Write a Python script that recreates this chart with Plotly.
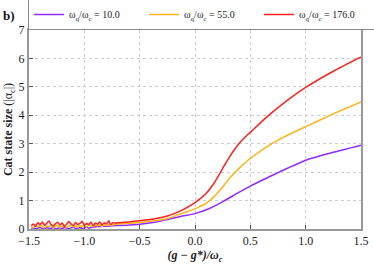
import plotly.graph_objects as go

# ---- data ----
x_noise = [round(-1.48 + 0.02 * i, 2) for i in range(40)]          # -1.48 .. -0.70
red_noise = [0.12,0.18,0.10,0.22,0.15,0.25,0.13,0.20,0.28,0.16,0.11,0.19,0.24,0.14,0.21,0.09,0.17,0.26,0.18,0.12,
             0.23,0.15,0.20,0.27,0.13,0.19,0.16,0.24,0.11,0.21,0.17,0.25,0.14,0.22,0.18,0.29,0.15,0.23,0.20,0.22]
orange_noise = [0.08,0.05,0.12,0.07,0.14,0.09,0.04,0.11,0.08,0.15,0.06,0.10,0.13,0.07,0.09,0.12,0.05,0.10,0.14,0.08,
                0.11,0.06,0.13,0.09,0.12,0.07,0.15,0.10,0.08,0.13,0.11,0.16,0.09,0.14,0.12,0.17,0.13,0.15,0.16,0.18]
purple_noise = [0.02,0.04,0.01,0.03,0.05,0.02,0.01,0.04,0.03,0.02,0.06,0.01,0.03,0.04,0.02,0.05,0.03,0.01,0.04,0.06,
                0.02,0.03,0.05,0.02,0.04,0.07,0.03,0.05,0.06,0.08]

red_x = [-0.6, -0.5, -0.35, -0.25, -0.13, 0.0, 0.1, 0.17, 0.22, 0.26, 0.3, 0.35, 0.4, 0.45, 0.5, 0.62, 0.77, 1.0, 1.25, 1.5]
red_y = [0.25, 0.29, 0.37, 0.46, 0.64, 0.93, 1.25, 1.6, 1.92, 2.2, 2.46, 2.76, 3.02, 3.22, 3.4, 3.84, 4.33, 4.98, 5.55, 6.05]

orange_x = [-0.6, -0.5, -0.35, -0.25, -0.13, 0.0, 0.1, 0.17, 0.25, 0.32, 0.4, 0.45, 0.5, 0.62, 0.77, 1.0, 1.25, 1.5]
orange_y = [0.2, 0.23, 0.3, 0.37, 0.53, 0.71, 0.9, 1.13, 1.48, 1.82, 2.14, 2.32, 2.48, 2.82, 3.17, 3.6, 4.05, 4.47]

purple_x = [-0.8, -0.7, -0.5, -0.35, -0.25, -0.13, 0.0, 0.13, 0.26, 0.38, 0.5, 0.63, 0.77, 1.0, 1.25, 1.5]
purple_y = [0.1, 0.12, 0.17, 0.25, 0.33, 0.44, 0.54, 0.72, 0.98, 1.25, 1.51, 1.76, 2.02, 2.42, 2.7, 2.95]

labels = ["ω<sub>q</sub>/ω<sub>c</sub> = 10.0", "ω<sub>q</sub>/ω<sub>c</sub> = 55.0", "ω<sub>q</sub>/ω<sub>c</sub> = 176.0"]
colors = ["#8f2bff", "#ffb31a", "#ff2020"]

x_ticks = [-1.5, -1.0, -0.5, 0.0, 0.5, 1.0, 1.5]
y_ticks = [0, 1, 2, 3, 4, 5, 6, 7]

series = [
    (x_noise[:len(purple_noise)] + purple_x, purple_noise + purple_y),
    (x_noise + orange_x, orange_noise + orange_y),
    (x_noise + red_x, red_noise + red_y),
]

fig = go.Figure()
for (xs, ys), lab, col in zip(series, labels, colors):
    fig.add_trace(go.Scatter(x=xs, y=ys, mode="lines", name=lab,
                             line=dict(color=col, width=1.5, shape="spline", smoothing=0.5)))

font_family = "Liberation Serif"
fig.update_layout(
    width=374, height=265,
    margin=dict(l=29, r=13, t=30, b=36, autoexpand=False),
    paper_bgcolor="white", plot_bgcolor="white",
    font=dict(family=font_family, size=12, color="#222"),
    showlegend=True,
    legend=dict(orientation="h", x=-0.003, y=1.0, xanchor="left", yanchor="bottom",
                bordercolor="#888", borderwidth=1, itemwidth=30,
                entrywidth=70, entrywidthmode="pixels", tracegroupgap=0,
                font=dict(family=font_family, size=10, color="#222")),
    xaxis=dict(range=[-1.5, 1.5], tickvals=x_ticks, tickformat=".1f",
               showgrid=True, gridcolor="#cccccc", griddash="dot", gridwidth=1,
               showline=True, linecolor="#999", linewidth=2, mirror=True,
               ticks="inside", ticklen=4, tickcolor="#555", zeroline=False,
               tickfont=dict(size=12),
               title=dict(text="<b><i>(g − g*)/ω<sub>c</sub></i></b>", standoff=3,
                          font=dict(size=12))),
    yaxis=dict(range=[0, 7], tickvals=y_ticks,
               showgrid=True, gridcolor="#cccccc", griddash="dot", gridwidth=1,
               showline=True, linecolor="#999", linewidth=2, mirror=True,
               ticks="inside", ticklen=4, tickcolor="#555", zeroline=False,
               tickfont=dict(size=12),
               title=dict(text="<b>Cat state size</b> (|α<sub>c</sub>|)", standoff=3,
                          font=dict(size=12))),
)
fig.add_annotation(text="<b>b)</b>", xref="paper", yref="paper", x=-0.084, y=1.075,
                   xanchor="left", yanchor="middle", showarrow=False,
                   font=dict(family=font_family, size=13, color="#111"))

fig.write_html("out.html", config={"displayModeBar": False},
               post_script="document.body.style.margin='0';")
